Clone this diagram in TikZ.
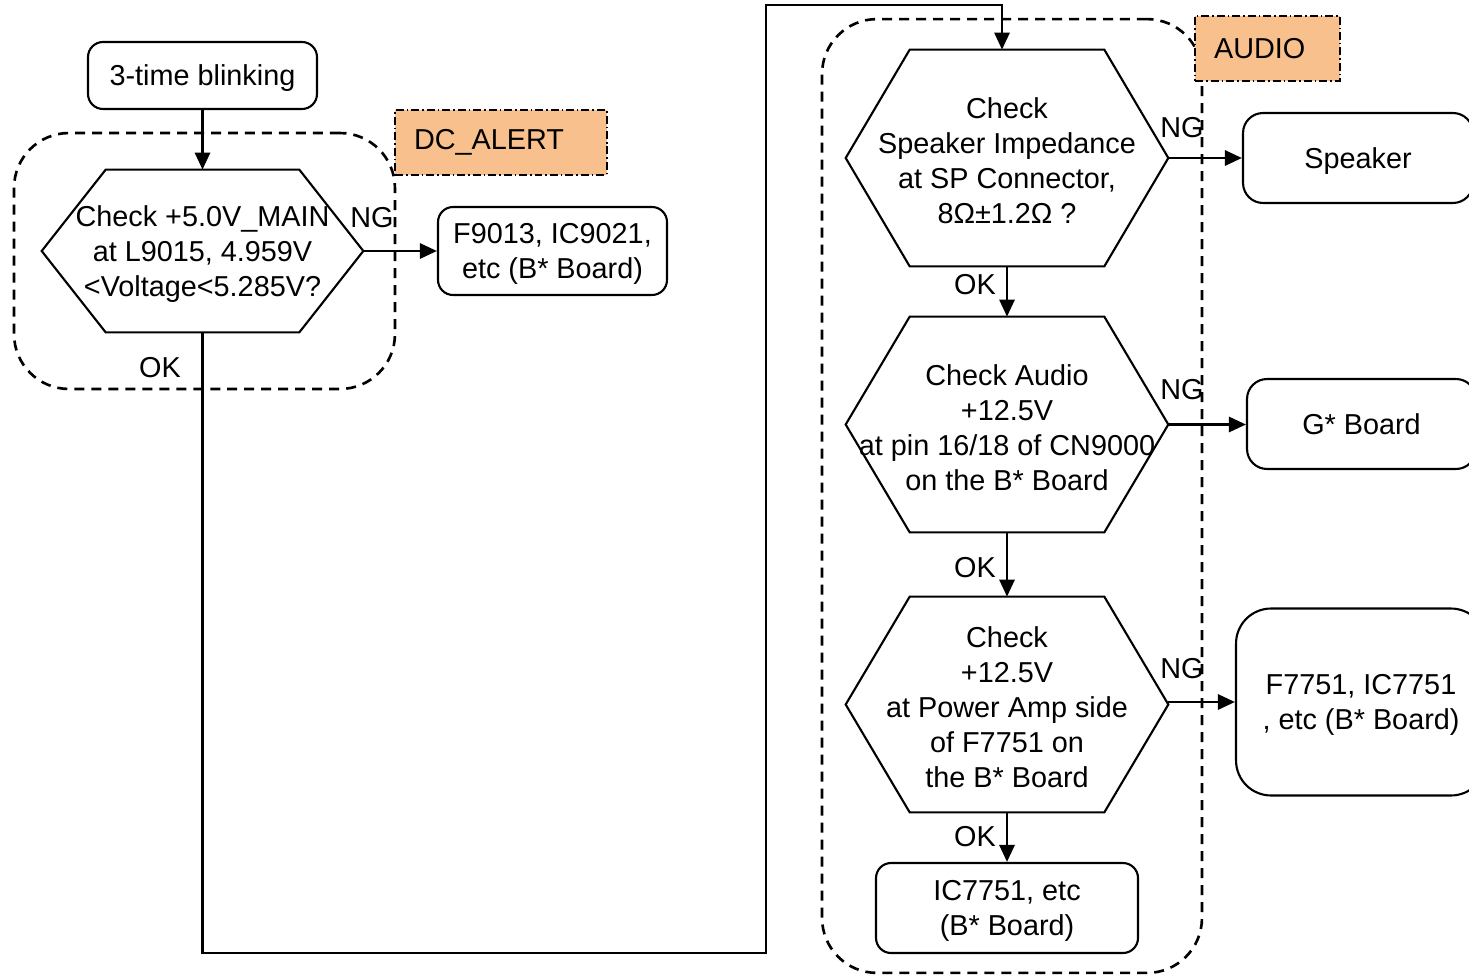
\documentclass[tikz,border=0pt]{standalone}
\usepackage{fontspec}
\setmainfont{Liberation Sans}
\usetikzlibrary{positioning, arrows.meta, calc}

\definecolor{tagorange}{RGB}{248,192,140}

% hexagon drawn on the border of a (plain) rectangle node
\newcommand{\hexoutline}[2]{%
	\draw[hexline] (#1.west) -- ([xshift=#2]#1.north west) -- ([xshift=-#2]#1.north east)
	-- (#1.east) -- ([xshift=-#2]#1.south east) -- ([xshift=#2]#1.south west) -- cycle;}

\begin{document}
\begin{tikzpicture}[
		x=0.02cm, y=-0.02cm,
		>={Triangle[length=0.34cm, width=0.3cm]},
		font=\fontsize{16.4}{19.9}\selectfont,
		% Rounded end / process boxes
		stdbox/.style={
				rectangle, rounded corners=#1, draw=black, line width=1.2pt,
				fill=white, align=center, inner sep=0pt, text depth=-0.1cm
			},
		stdbox/.default=0.3cm,
		% Decision hexagon (outline added by \hexoutline)
		hexnode/.style 2 args={
				rectangle, minimum width=#1, minimum height=#2,
				align=center, inner sep=0pt
			},
		hexline/.style={draw=black, line width=1.2pt, fill=white},
		hextext/.style={align=center, yshift=-0.06cm},
		% Dashed group frame and its orange tag
		groupbox/.style={
				rectangle, rounded corners=1.1cm, draw=black, line width=1.5pt,
				dash pattern=on 0.2cm off 0.14cm
			},
		grouptag/.style={
				rectangle, draw=black, fill=tagorange, line width=1.5pt,
				dash pattern=on 0.16cm off 0.06cm on 0.03cm off 0.06cm,
				align=left, inner xsep=0.38cm, minimum height=1.3cm
			},
		% Arrows and branch labels
		arrowflow/.style={->, line width=1.6pt, draw=black},
		branch/.style={inner sep=0pt}
	]
	\useasboundingbox (0,0) rectangle (1469,976);
	\clip (0,0) rectangle (1469,976);

	% ==========================================
	% 1. GROUP FRAMES
	% ==========================================

	\node[groupbox, minimum width=7.62cm, minimum height=5.12cm] (dcgroup) at (204.5,261) {};
	\node[groupbox, minimum width=7.6cm, minimum height=19.08cm] (audiogroup) at (1012,496) {};

	\node[grouptag, text width=3.48cm] (dctag) at (501,142.5) {DC\_ALERT};
	\node[grouptag, text width=2.14cm] (audiotag) at (1267.5,48.5) {AUDIO};

	% ==========================================
	% 2. DC_ALERT CHECK (LEFT)
	% ==========================================

	\node[stdbox, minimum width=4.58cm, minimum height=1.34cm] (blink) at (202.5,75.5) {3-time blinking};

	\node[hexnode={6.42cm}{3.24cm}] (hexdc) at (202.5,251) {};
	\hexoutline{hexdc}{1.28cm}
	\node[hextext] at (hexdc.center) {Check +5.0V\_MAIN\\at L9015, 4.959V\\<Voltage<5.285V?};

	\node[stdbox, minimum width=4.58cm, minimum height=1.76cm] (fuseb) at (552.5,251) {F9013, IC9021,\\etc (B* Board)};

	% ==========================================
	% 3. AUDIO CHECKS (RIGHT)
	% ==========================================

	\node[hexnode={6.44cm}{4.32cm}] (hexspk) at (1007,158) {};
	\hexoutline{hexspk}{1.28cm}
	\node[hextext] at (hexspk.center) {Check\\Speaker Impedance\\at SP Connector,\\8Ω±1.2Ω ?};

	\node[hexnode={6.44cm}{4.3cm}] (hexamp) at (1007,424.5) {};
	\hexoutline{hexamp}{1.28cm}
	\node[hextext] at (hexamp.center) {Check Audio\\+12.5V\\at pin 16/18 of CN9000\\on the B* Board};

	\node[hexnode={6.44cm}{4.3cm}] (hexpwr) at (1007,704.5) {};
	\hexoutline{hexpwr}{1.28cm}
	\node[hextext] at (hexpwr.center) {Check\\+12.5V\\at Power Amp side\\of F7751 on\\the B* Board};

	\node[stdbox, minimum width=5.24cm, minimum height=1.8cm] (icamp) at (1007,908) {IC7751, etc\\(B* Board)};

	% Result boxes (cut off at the right edge)
	\node[stdbox=0.4cm, minimum width=4.6cm, minimum height=1.8cm] (speaker) at (1358,158) {Speaker};
	\node[stdbox=0.4cm, minimum width=4.58cm, minimum height=1.8cm] (gboard) at (1361.5,424) {G* Board};
	\node[stdbox=0.7cm, minimum width=5.0cm, minimum height=3.74cm] (fuseamp) at (1361,702) {F7751, IC7751\\, etc (B* Board)};

	% ==========================================
	% 4. FLOW ARROWS
	% ==========================================

	\coordinate (bendlow) at (766,953);
	\coordinate (bendtop) at (766,5);

	\draw[arrowflow] (blink.south) -- (hexdc.north);
	\draw[arrowflow] (hexdc.east) -- (fuseb.west);
	\draw[arrowflow] (hexdc.south) |- (bendlow) -- (bendtop) -| ([xshift=-0.1cm]hexspk.north);

	\draw[arrowflow] (hexspk.south) -- (hexamp.north);
	\draw[arrowflow] (hexamp.south) -- (hexpwr.north);
	\draw[arrowflow] (hexpwr.south) -- (icamp.north);

	\draw[arrowflow] (hexspk.east) -- (hexspk.east -| speaker.west);
	\draw[arrowflow] (hexamp.east) -- (hexamp.east -| gboard.west);
	\draw[arrowflow] (hexpwr.east |- fuseamp.west) -- (fuseamp.west);

	% Branch labels
	\node[branch] (ngdc) at (372,218) {NG};
	\node[branch] (okdc) at (160,368) {OK};
	\node[branch] (ngspk) at (1182,128) {NG};
	\node[branch] (okspk) at (975,285) {OK};
	\node[branch] (ngamp) at (1182,390) {NG};
	\node[branch] (okamp) at (975,568) {OK};
	\node[branch] (ngpwr) at (1182,669) {NG};
	\node[branch] (okpwr) at (975,837) {OK};

\end{tikzpicture}
\end{document}
